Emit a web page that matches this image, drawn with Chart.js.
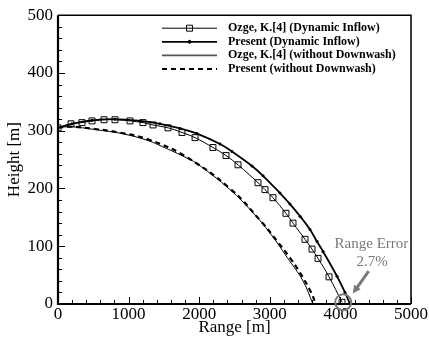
<!DOCTYPE html>
<html>
<head>
<meta charset="utf-8">
<script src="https://cdn.jsdelivr.net/npm/chart.js@4.4.0/dist/chart.umd.min.js"></script>
<style>
    html, body { margin: 0; padding: 0; background: #fff; }
</style>
</head>
<body>
<canvas id="myChart" width="429" height="341"></canvas>
<script>
// values
const ozgeDynX = [0, 184, 340, 482, 652, 807, 1020, 1204, 1346, 1558, 1756, 1941, 2195, 2380, 2550, 2833, 2932, 3045, 3229, 3329, 3499, 3598, 3683, 3839, 4023];
const ozgeDynY = [305, 312, 314, 317, 319, 319, 317, 314, 310, 305, 297, 288, 271, 257, 241, 210, 198, 184, 157, 140, 112, 95, 79, 47, 3];

const presDynX = [0, 198, 482, 807, 1161, 1445, 1728, 1969, 2295, 2465, 2748, 2904, 3144, 3286, 3428, 3569, 3669, 3754, 3952, 4065, 4136];
const presDynY = [305, 312, 318, 320, 317, 312, 304, 295, 277, 264, 239, 222, 192, 173, 152, 129, 108, 91, 48, 20, 0];

const ozgeNoDwX = [0, 170, 524, 907, 1275, 1487, 1771, 1969, 2436, 2762, 3003, 3244, 3470, 3612];
const ozgeNoDwY = [305, 307, 302, 295, 283, 272, 256, 243, 198, 158, 123, 81, 40, 0];

const presNoDwX = [0, 170, 524, 907, 1275, 1771, 2436, 2890, 3102, 3286, 3428, 3569, 3654];
const presNoDwY = [305, 307, 303, 296, 285, 258, 200, 141, 109, 80, 54, 24, 0];

const seriesNames = [
    'Ozge, K.[4] (Dynamic Inflow)',
    'Present (Dynamic Inflow)',
    'Ozge, K.[4] (without Downwash)',
    'Present (without Downwash)'
];

const xTicks = [0, 1000, 2000, 3000, 4000, 5000];
const yTicks = [0, 100, 200, 300, 400, 500];

// annotation, in data units
const errorText = ['Range Error', '2.7%'];
const errorCircle = { x: 4040, y: 3 };
const arrowFrom = { x: 4400, y: 57 };
const arrowTo = { x: 4175, y: 18 };

const toPoints = (xs, ys) => xs.map((x, i) => ({ x: x, y: ys[i] }));

const serif = 'Liberation Serif, Times New Roman, serif';
const grey = '#7a7a7a';

// inward ticks, minor ticks and the box frame
const frameTicks = {
    id: 'frameTicks',
    afterDraw(chart) {
        const ctx = chart.ctx;
        const a = chart.chartArea;
        const sx = chart.scales.x;
        const sy = chart.scales.y;
        ctx.save();
        ctx.strokeStyle = '#000';
        ctx.lineWidth = 1;
        ctx.beginPath();
        for (let v = 0; v <= 5000; v += 200) {
            const px = Math.round(sx.getPixelForValue(v)) + 0.5;
            const len = v % 1000 === 0 ? 7 : 4;
            ctx.moveTo(px, a.bottom);
            ctx.lineTo(px, a.bottom - len);
        }
        for (let v = 0; v <= 500; v += 20) {
            const py = Math.round(sy.getPixelForValue(v)) + 0.5;
            const len = v % 100 === 0 ? 7 : 4;
            ctx.moveTo(a.left, py);
            ctx.lineTo(a.left + len, py);
        }
        ctx.stroke();

        ctx.lineWidth = 1.5;
        ctx.beginPath();
        ctx.moveTo(a.left, a.top);
        ctx.lineTo(a.right, a.top);
        ctx.lineTo(a.right, a.bottom);
        ctx.stroke();
        ctx.lineWidth = 2.2;
        ctx.beginPath();
        ctx.moveTo(a.left, a.top);
        ctx.lineTo(a.left, a.bottom);
        ctx.lineTo(a.right, a.bottom);
        ctx.stroke();
        ctx.restore();
    }
};

// legend drawn the way the figure has it: line with a marker in the middle
const legendBox = {
    id: 'legendBox',
    afterDraw(chart) {
        const ctx = chart.ctx;
        const a = chart.chartArea;
        ctx.save();
        chart.data.datasets.forEach((ds, i) => {
            const y = a.top + 13 + i * 13.6;
            const x0 = a.left + 104;
            const x1 = a.left + 159;
            ctx.strokeStyle = i === 2 ? '#555' : '#000';
            ctx.lineWidth = i === 2 ? 1.6 : ds.borderWidth;
            ctx.setLineDash(ds.borderDash || []);
            ctx.beginPath();
            ctx.moveTo(x0, y);
            ctx.lineTo(x1, y);
            ctx.stroke();
            ctx.setLineDash([]);
            if (ds.pointRadius > 0) {
                ctx.fillStyle = ds.pointBackgroundColor;
                ctx.strokeStyle = '#000';
                ctx.lineWidth = 1;
                Chart.helpers.drawPoint(ctx, {
                    pointStyle: ds.pointStyle,
                    radius: ds.pointRadius,
                    borderWidth: 1
                }, (x0 + x1) / 2, y);
            }
            ctx.fillStyle = '#000';
            ctx.font = 'bold 12px ' + serif;
            ctx.textBaseline = 'middle';
            ctx.fillText(ds.label, a.left + 170, y);
        });
        ctx.restore();
    }
};

// range error note, circle and arrow
const rangeNote = {
    id: 'rangeNote',
    afterDraw(chart) {
        const ctx = chart.ctx;
        const sx = chart.scales.x;
        const sy = chart.scales.y;
        ctx.save();
        ctx.fillStyle = grey;
        ctx.font = '15px ' + serif;
        ctx.textAlign = 'center';
        ctx.textBaseline = 'middle';
        ctx.fillText(errorText[0], sx.getPixelForValue(4440), sy.getPixelForValue(104));
        ctx.fillText(errorText[1], sx.getPixelForValue(4450), sy.getPixelForValue(72));

        ctx.strokeStyle = grey;
        ctx.lineWidth = 2;
        ctx.beginPath();
        ctx.arc(sx.getPixelForValue(errorCircle.x), sy.getPixelForValue(errorCircle.y), 8, 0, Math.PI * 2);
        ctx.stroke();

        const fx = sx.getPixelForValue(arrowFrom.x), fy = sy.getPixelForValue(arrowFrom.y);
        const tx = sx.getPixelForValue(arrowTo.x), ty = sy.getPixelForValue(arrowTo.y);
        const ang = Math.atan2(ty - fy, tx - fx);
        ctx.lineWidth = 3;
        ctx.beginPath();
        ctx.moveTo(fx, fy);
        ctx.lineTo(tx - 5 * Math.cos(ang), ty - 5 * Math.sin(ang));
        ctx.stroke();
        ctx.beginPath();
        ctx.moveTo(tx, ty);
        ctx.lineTo(tx - 8 * Math.cos(ang) + 4 * Math.sin(ang), ty - 8 * Math.sin(ang) - 4 * Math.cos(ang));
        ctx.lineTo(tx - 8 * Math.cos(ang) - 4 * Math.sin(ang), ty - 8 * Math.sin(ang) + 4 * Math.cos(ang));
        ctx.closePath();
        ctx.fill();
        ctx.restore();
    }
};

const ctx = document.getElementById('myChart').getContext('2d');
new Chart(ctx, {
    type: 'scatter',
    data: {
        datasets: [{
            label: seriesNames[0],
            data: toPoints(ozgeDynX, ozgeDynY),
            showLine: true,
            borderColor: '#000',
            borderWidth: 1,
            pointStyle: 'rect',
            pointRadius: 4.2,
            pointBorderWidth: 1,
            pointBorderColor: '#000',
            pointBackgroundColor: 'rgba(0,0,0,0)',
            tension: 0.4
        }, {
            label: seriesNames[1],
            data: toPoints(presDynX, presDynY),
            showLine: true,
            borderColor: '#000',
            borderWidth: 1.8,
            pointStyle: 'circle',
            pointRadius: 1.5,
            pointBorderWidth: 0,
            pointBackgroundColor: '#000',
            tension: 0.4
        }, {
            label: seriesNames[2],
            data: toPoints(ozgeNoDwX, ozgeNoDwY),
            showLine: true,
            borderColor: '#000',
            borderWidth: 1,
            pointRadius: 0,
            tension: 0.4
        }, {
            label: seriesNames[3],
            data: toPoints(presNoDwX, presNoDwY),
            showLine: true,
            borderColor: '#000',
            borderWidth: 2.2,
            borderDash: [5, 4],
            pointRadius: 0,
            tension: 0.4
        }]
    },
    options: {
        responsive: false,
        animation: false,
        events: [],
        layout: {
            padding: { left: 0, right: 18, top: 14, bottom: 0 }
        },
        plugins: {
            legend: { display: false },
            tooltip: { enabled: false }
        },
        scales: {
            x: {
                type: 'linear',
                min: 0,
                max: 5000,
                afterBuildTicks: (scale) => { scale.ticks = xTicks.map(v => ({ value: v })); },
                afterFit: (scale) => { scale.height = 37; },
                grid: { display: false, drawTicks: false },
                border: { display: false },
                ticks: {
                    color: '#000',
                    padding: 0,
                    maxRotation: 0,
                    callback: (v) => String(v),
                    font: { family: serif, size: 17 }
                },
                title: {
                    display: true,
                    text: 'Range [m]',
                    color: '#000',
                    padding: { top: 0, bottom: 3 },
                    font: { family: serif, size: 17 }
                }
            },
            y: {
                type: 'linear',
                min: 0,
                max: 500,
                afterBuildTicks: (scale) => { scale.ticks = yTicks.map(v => ({ value: v })); },
                afterFit: (scale) => { scale.width = 58; },
                grid: { display: false, drawTicks: false },
                border: { display: false },
                ticks: {
                    color: '#000',
                    padding: 5,
                    callback: (v) => String(v),
                    font: { family: serif, size: 17 }
                },
                title: {
                    display: true,
                    text: 'Height [m]',
                    color: '#000',
                    padding: { top: 4, bottom: 0 },
                    font: { family: serif, size: 17 }
                }
            }
        }
    },
    plugins: [frameTicks, legendBox, rangeNote]
});
</script>
</body>
</html>
